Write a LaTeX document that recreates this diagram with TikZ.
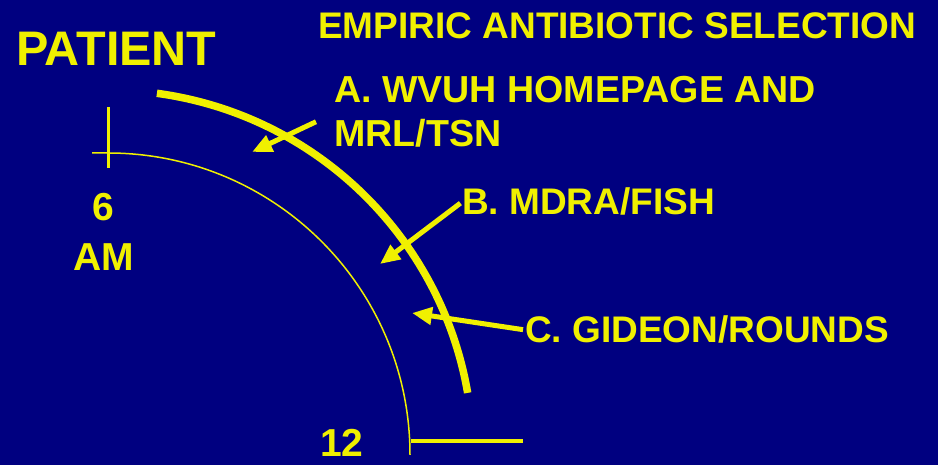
\documentclass[tikz,border=0pt]{standalone}
\usepackage{fontspec}
\setmainfont{Liberation Sans}
\usetikzlibrary{arrows.meta}
\definecolor{slideBlue}{RGB}{0,0,128}
\definecolor{slideYellow}{RGB}{240,240,0}

\begin{document}
\begin{tikzpicture}[x=1pt, y=1pt, line join=round,
  lab/.style={font=\bfseries\fontsize{37}{44}\selectfont, text=slideYellow, inner sep=0pt},
  pointer/.style={slideYellow, line width=5pt, -{Triangle[length=20pt,width=17pt]}}]
\fill[slideBlue] (0,0) rectangle (938,465);
\useasboundingbox (0,0) rectangle (938,465);
% clock
\draw[slideYellow, line width=1.5pt] (92,312) -- (108,312) arc (90:0:302);
\draw[slideYellow, line width=3pt] (108,358) -- (108,297);
\draw[slideYellow, line width=4pt] (411,24) -- (523,24);
\draw[slideYellow, line width=7.5pt] (108,10) ++(82.3:365) arc (82.3:9.8:365);
% labels
\node[lab, font=\bfseries\fontsize{48.5}{56}\selectfont, anchor=base west] (patient) at (16,399) {PATIENT};
\node[lab, anchor=base west] (title) at (318,426) {EMPIRIC ANTIBIOTIC SELECTION};
\node[lab, font=\bfseries\fontsize{37.6}{44}\selectfont, anchor=base west] (labA1) at (334,362) {A. WVUH HOMEPAGE AND};
\node[lab, font=\bfseries\fontsize{37.6}{44}\selectfont, anchor=base west] (labA2) at (334,318) {MRL/TSN};
\node[lab, anchor=base west] (labB) at (462,250) {B. MDRA/FISH};
\node[lab, anchor=base west] (labC) at (525,122) {C. GIDEON/ROUNDS};
\node[lab, font=\bfseries\fontsize{39}{46}\selectfont, anchor=base] (six) at (103,244) {6};
\node[lab, font=\bfseries\fontsize{39}{46}\selectfont, anchor=base] (am) at (104,194) {AM};
\node[lab, font=\bfseries\fontsize{39}{46}\selectfont, anchor=base] (twelve) at (342,8) {12};
% pointers
\coordinate (tipA) at (252,313);
\coordinate (tipB) at (380,201);
\coordinate (tipC) at (412,152);
\draw[pointer] ([shift={(-18pt,12pt)}]labA2.west) -- (tipA);
\draw[pointer, shorten <=2pt] (labB.west) -- (tipB);
\draw[pointer, shorten <=2pt] (labC.west) -- (tipC);
\end{tikzpicture}
\end{document}
